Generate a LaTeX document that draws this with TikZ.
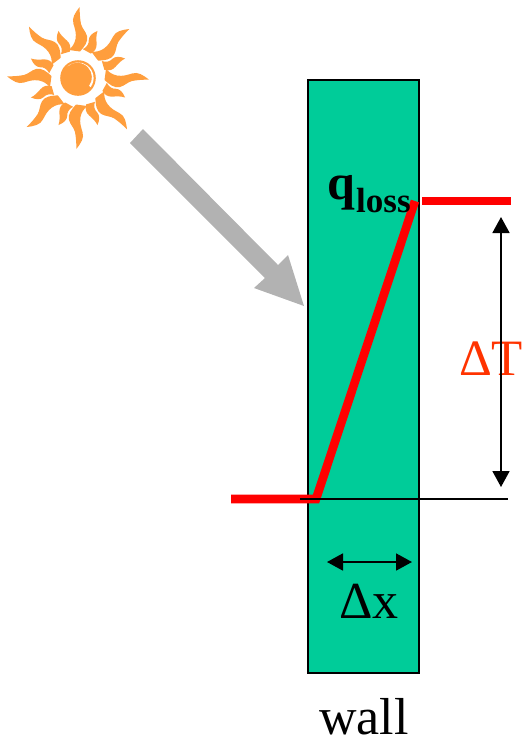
\documentclass[tikz,border=0pt]{standalone}
\usepackage{fontspec}
\setmainfont{Liberation Serif}
\usetikzlibrary{arrows.meta}
\definecolor{wallgreen}{HTML}{00CC99}
\definecolor{sunorange}{HTML}{FF9E3D}
\definecolor{beamgray}{HTML}{B2B2B2}
\definecolor{deltared}{HTML}{FF3300}
\tikzset{
  wallbox/.style={draw=black,line width=1.8pt,fill=wallgreen},
  redline/.style={draw=red,line width=8.6pt},
  dimline/.style={draw=black,line width=1.8pt,{Triangle[length=16pt,width=17pt]}-{Triangle[length=16pt,width=17pt]}},
  lbl/.style={inner sep=0pt,anchor=base west},
  longray/.pic={\fill[sunorange] (1.7,71) .. controls (-3,65) and (-6.5,60) .. (-4.5,54) .. controls (-3,49) and (-1.5,45) .. (-2.5,39) .. controls (-3.5,34) and (-6,31) .. (-9,28) -- (2,26.5) .. controls (6,31) and (10.5,36) .. (9,42) .. controls (7.5,47) and (4.5,49) .. (3,54) .. controls (2,59) and (1.5,66) .. (1.7,71) -- cycle;},
  shortray/.pic={\fill[sunorange] (0,51) .. controls (-4,47) and (-6,43) .. (-4.5,39) .. controls (-3,36) and (-3.5,32) .. (-6.5,28.5) -- (2.5,27.5) .. controls (5.5,31) and (6,35) .. (4,39) .. controls (2,43) and (0.5,46) .. (0,51) -- cycle;}
}
\begin{document}
\begin{tikzpicture}[x=1pt,y=-1pt]
\useasboundingbox (0,0) rectangle (525,740);
% sun
\coordinate (sun) at (78,78);
\foreach \a in {0,45,...,315}{
  \pic[rotate=\a] at (sun) [yscale=-1] {longray};
  \pic[rotate=\a+22.5] at (sun) [yscale=-1] {shortray};
}
\fill[sunorange] (sun) circle[radius=17.8];
\fill[white] ([shift={(36:15.6)}]sun) arc[start angle=36,end angle=-132,radius=15.6]
  arc[start angle=-132,end angle=36,radius=14.6] -- cycle;
% beam
\coordinate (beamA) at (130,143);
\coordinate (beamB) at (143,129);
\coordinate (beamC) at (278,265);
\coordinate (beamD) at (288,255);
\coordinate (beamTip) at (304,306);
\coordinate (beamE) at (254,288);
\coordinate (beamF) at (265,278);
\fill[beamgray] (beamA) -- (beamB) -- (beamC) -- (beamD) -- (beamTip) -- (beamE) -- (beamF) -- cycle;
% wall
\coordinate (wallNW) at (308,80);
\coordinate (wallSE) at (419,673);
\draw[wallbox] (wallNW) rectangle (wallSE);
% temperature profile
\coordinate (lowA) at (231,499);
\coordinate (lowB) at (316,499);
\coordinate (highA) at (415,201);
\coordinate (highB) at (422,201);
\coordinate (highC) at (511,201);
\draw[redline,line join=miter] (lowA) -- (lowB) -- (highA);
\draw[redline] (highB) -- (highC);
% reference line
\coordinate (baseA) at (300,499);
\coordinate (baseB) at (508,499);
\draw[black,line width=1.6pt] (baseA) -- (baseB);
% dimensions
\coordinate (dtTop) at (501,217);
\coordinate (dtBot) at (501,487);
\coordinate (dxL) at (327,562);
\coordinate (dxR) at (412,562);
% labels (the red label lies under the arrow, as in the reference)
\node[lbl,text=deltared] (dT) at (459,375) {\fontsize{51}{51}\selectfont ΔT};
\draw[dimline] (dtTop) -- (dtBot);
\draw[dimline] (dxL) -- (dxR);
\node[lbl] (q) at (327,199) {\fontsize{50}{50}\selectfont\bfseries q};
\node[lbl] (loss) at (356,212) {\fontsize{35}{35}\selectfont\bfseries loss};
\node[lbl] (dx) at (339,618) {\fontsize{52}{52}\selectfont Δx};
\node[lbl] (wall) at (319,734) {\fontsize{52}{52}\selectfont wall};
\end{tikzpicture}
\end{document}
